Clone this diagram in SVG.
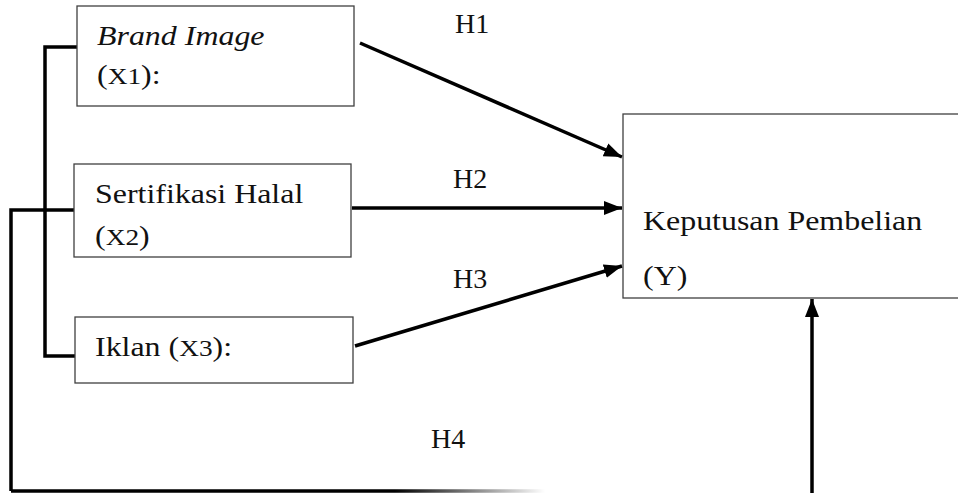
<svg xmlns="http://www.w3.org/2000/svg" width="958" height="493" viewBox="0 0 958 493">
<style>
.box{fill:#fff;stroke:#404040;stroke-width:1.3}
.t{font-family:"Liberation Serif","Times New Roman",serif;font-size:28px;fill:#111}
.s{font-size:24px}
.c{fill:none;stroke:#000;stroke-width:3.5}
</style>
<defs>
<marker id="ah" markerUnits="userSpaceOnUse" markerWidth="20" markerHeight="16" refX="18" refY="7" orient="auto">
<path d="M0,0 L18,7 L0,14 Z" fill="#000"/>
</marker>
<linearGradient id="fade" gradientUnits="userSpaceOnUse" x1="395" y1="0" x2="545" y2="0">
<stop offset="0" stop-color="#000"/>
<stop offset="1" stop-color="#000" stop-opacity="0"/>
</linearGradient>
</defs>
<g id="connectors">
<polyline class="c" points="77,47 45,47 45,356 75,356"/>
<polyline class="c" points="74,210 11,210 11,491"/>
<line x1="11" y1="491" x2="548" y2="491" stroke="url(#fade)" stroke-width="3.5"/>
<line class="c" x1="360" y1="43" x2="622" y2="157" marker-end="url(#ah)"/>
<line class="c" x1="352" y1="208" x2="622" y2="208" marker-end="url(#ah)"/>
<line class="c" x1="355" y1="346" x2="622" y2="266" marker-end="url(#ah)"/>
<line class="c" x1="812" y1="493" x2="812" y2="299" marker-end="url(#ah)"/>
<text class="t" x="455" y="33">H1</text>
<text class="t" x="453" y="188">H2</text>
<text class="t" x="453" y="288">H3</text>
<text class="t" x="431" y="448">H4</text>
</g>
<g id="x1">
<rect class="box" x="77" y="6" width="277" height="100"/>
<text class="t" transform="translate(97,45) scale(1.14,1)" font-style="italic">Brand Image</text>
<text class="t" transform="translate(97,84) scale(1.14,1)">(<tspan class="s">X1</tspan>):</text>
</g>
<g id="x2">
<rect class="box" x="74" y="164" width="277" height="93"/>
<text class="t" transform="translate(95,203) scale(1.14,1)">Sertifikasi Halal</text>
<text class="t" transform="translate(95,245) scale(1.14,1)">(<tspan class="s">X2</tspan>)</text>
</g>
<g id="x3">
<rect class="box" x="75" y="317" width="278" height="66"/>
<text class="t" transform="translate(95,356) scale(1.14,1)">Iklan (<tspan class="s">X3</tspan>):</text>
</g>
<g id="y">
<rect class="box" x="623" y="114" width="340" height="184"/>
<text class="t" transform="translate(643,230) scale(1.14,1)">Keputusan Pembelian</text>
<text class="t" transform="translate(643,285) scale(1.14,1)">(Y)</text>
</g>
</svg>
